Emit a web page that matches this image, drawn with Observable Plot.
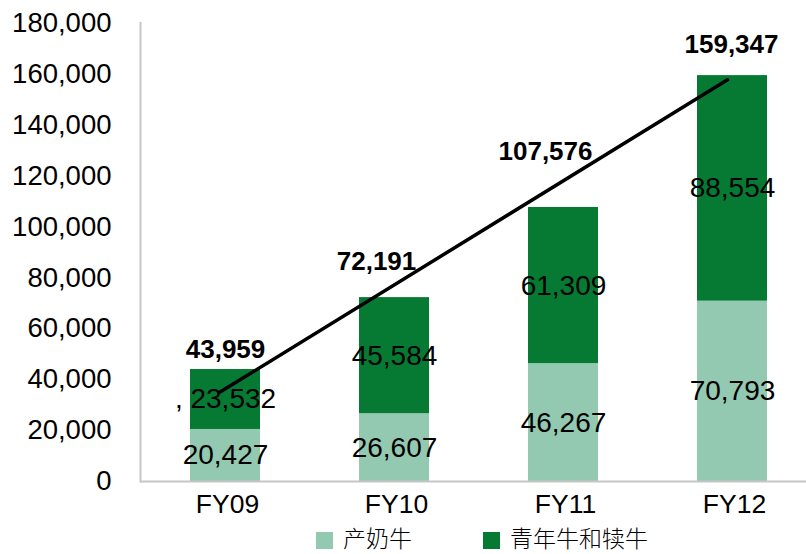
<!DOCTYPE html>
<html>
<head>
<meta charset="utf-8">
<script src="https://cdn.jsdelivr.net/npm/d3@7"></script>
<script src="https://cdn.jsdelivr.net/npm/@observablehq/plot@0.6"></script>
<style>
  html, body { margin: 0; background: #fff; overflow: hidden; }
  #wrap { position: relative; width: 806px; height: 554px; overflow: hidden; font-family: "Liberation Sans", Arial, sans-serif; }
  #chart { position: absolute; left: 0; top: 0; width: 816px; height: 520px; }
  #chart svg { max-width: none !important; width: 816px; height: 520px; }
  #legend { position: absolute; left: 316px; top: 520px; height: 34px; display: flex; align-items: center;
            font-family: "Noto Sans CJK SC", sans-serif; font-weight: 300; font-size: 23px; color: #000; white-space: nowrap; }
  .item { display: flex; align-items: center; }
  .sw { width: 17px; height: 17px; margin-right: 10px; margin-top: 6px; display: inline-block; }
  .tx { display: inline-block; line-height: 24px; height: 24px; margin-top: 0px; }
</style>
</head>
<body>
<div id="wrap">
  <div id="chart"></div>
  <div id="legend"></div>
</div>
<script>
// ---- data ----
const categories = ["FY09", "FY10", "FY11", "FY12"];
const seriesNames = ["产奶牛", "青年牛和犊牛"];
const dairyCows = [20427, 26607, 46267, 70793];
const youngCows = [23532, 45584, 61309, 88554];
const totals = [43959, 72191, 107576, 159347];
const youngLabels = [", 23,532", "45,584", "61,309", "88,554"];
const dairyLabels = ["20,427", "26,607", "46,267", "70,793"];
const totalLabels = ["43,959", "72,191", "107,576", "159,347"];
const trendCats = ["FY09", "FY12"];
const trendValues = [35200, 157700];
const yTicks = [0, 20000, 40000, 60000, 80000, 100000, 120000, 140000, 160000, 180000];

// ---- styling ----
const colors = ["#94c9b1", "#067a32"];
const axisGray = "#c6c6c6";
const totalNudgeX = [0, -18, -18, -1];
const totalNudgeY = [-20, -36, -56, -31];

// ---- tables built from the arrays ----
const rows = [];
categories.forEach((c, i) => rows.push({cat: c, series: seriesNames[0], value: dairyCows[i], label: dairyLabels[i], mid: dairyCows[i] / 2}));
categories.forEach((c, i) => rows.push({cat: c, series: seriesNames[1], value: youngCows[i], label: youngLabels[i], mid: dairyCows[i] + youngCows[i] / 2}));
const trend = trendCats.map((c, i) => ({cat: c, value: trendValues[i]}));

const totalMarks = categories.map((c, i) =>
  Plot.text([{cat: c, value: totals[i], label: totalLabels[i]}], {
    x: "cat", y: "value", text: "label",
    dx: totalNudgeX[i], dy: totalNudgeY[i],
    fontSize: 26, fontWeight: "bold", fill: "#000"
  })
);

const chart = Plot.plot({
  width: 816,
  height: 520,
  marginLeft: 140,
  marginRight: 0,
  marginTop: 22.5,
  marginBottom: 39,
  style: {fontFamily: "Liberation Sans, Arial, sans-serif", fontSize: "25px", color: "#000", background: "transparent", maxWidth: "none"},
  x: {domain: categories, paddingInner: 0.586, paddingOuter: 0.29},
  y: {domain: [0, 180000]},
  color: {domain: seriesNames, range: colors},
  marks: [
    Plot.axisY({ticks: yTicks, tickFormat: d3.format(","), tickSize: 0, tickPadding: 29, fontSize: 27.5, label: null}),
    Plot.axisX({tickSize: 0, tickPadding: 13, fontSize: 26.5, dx: 2, label: null}),
    Plot.barY(rows, {x: "cat", y: "value", fill: "series"}),
    Plot.ruleY([0], {stroke: axisGray, strokeWidth: 2}),
    Plot.frame({anchor: "left", stroke: axisGray, strokeWidth: 2}),
    Plot.text(rows, {x: "cat", y: "mid", text: "label", fontSize: 28, fill: "#000"}),
    Plot.line(trend, {x: "cat", y: "value", stroke: "#000", strokeWidth: 3.5, dx: -5}),
    ...totalMarks
  ]
});
document.getElementById("chart").appendChild(chart);

// ---- legend ----
const legend = document.getElementById("legend");
seriesNames.forEach((name, i) => {
  const item = document.createElement("div");
  item.className = "item";
  if (i > 0) item.style.marginLeft = "71px";
  const sw = document.createElement("span");
  sw.className = "sw";
  sw.style.background = colors[i];
  const t = document.createElement("span");
  t.className = "tx";
  t.textContent = name;
  item.appendChild(sw);
  item.appendChild(t);
  legend.appendChild(item);
});
</script>
</body>
</html>
